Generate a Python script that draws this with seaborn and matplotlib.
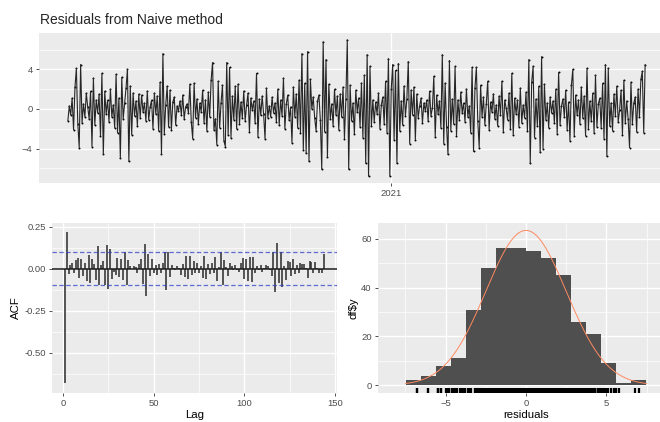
import matplotlib

matplotlib.use("Agg")
import matplotlib.pyplot as plt
import numpy as np
import pandas as pd
import seaborn as sns
from matplotlib.ticker import FixedLocator

# residual series (one row per ~34 px of the top panel)
RESIDUALS = [
    -1.2, 0.3, -0.6, 1.1, -2.1, 2.2, 4.1, -1.5, -3.9, 4.5, -1.4, 0.5, -0.8, 1.6, 0.2, -1.0, 1.8, -3.8, 3.1, -1.6, 0.9, -0.4, 1.5, -2.7,
    3.6, -4.6, 1.8, -0.5, 0.9, -1.3, 2.0, -0.8, 0.4, -1.9, 3.5, -2.4, 1.1, -5.0, 3.2, -1.0, 0.6, 2.1, 4.0, -5.3, 2.3, -2.6, 1.6, -0.7,
    0.8, -1.7, 1.5, -0.9, 1.4, -0.3, 0.6, -1.2, 1.8, -1.1, 0.2, 0.9, -2.0, 1.6, -0.5, 1.3, -2.2, 2.7, -4.6, 5.6, -2.5, 0.4, 2.3, -1.8,
    1.9, -2.1, 0.7, 1.2, -1.6, 0.3, -0.2, 0.8, -0.6, 1.4, -1.0, 0.2, 0.5, -0.4, 2.5, -1.3, -3.0, 2.6, -0.9, 1.0, -1.5, 0.6, -0.3, 1.9,
    -1.4, 0.9, -2.2, 1.7, -0.8, 2.9, 4.7, -2.1, -1.0, -3.6, 2.8, -1.9, 0.6, 2.4, -3.2, -3.8, 4.7, -2.6, 4.2, -2.9, 1.3, -1.1, 2.3, -2.0,
    2.5, -1.5, 0.7, -0.9, 1.8, -1.2, 0.4, 1.6, -2.3, 1.1, -0.1, 0.8, -1.4, 3.6, -2.8, 1.0, -0.6, 1.3, -0.5, -3.0, 2.1, -0.9, 0.3, -0.8,
    1.2, -0.4, 0.6, -1.3, 2.0, -1.6, 0.9, -0.7, 3.1, -2.0, 0.5, 1.4, -1.1, 0.2, -3.4, 2.2, -0.8, 1.5, -1.9, 2.9, -2.4, 5.6, -4.1, 2.6,
    -4.5, 5.8, -5.3, 3.0, 0.0, 1.2, -0.9, -2.2, 0.8, 1.4, -1.1, -6.1, 6.8, -2.3, 5.0, -4.9, 2.5, -1.0, 0.5, -1.7, 2.0, -0.6, 1.3, -2.1,
    1.5, -0.8, 2.2, -3.0, 1.0, 7.0, -6.1, 2.4, -1.2, 0.6, -2.5, 1.9, -0.3, 1.1, -1.8, 2.6, -2.9, 3.4, -5.5, 5.5, -6.8, 4.3, -1.7, 0.9,
    -1.3, 0.7, -0.5, 1.6, -2.0, 0.4, 1.2, -1.5, 2.8, -2.4, 5.1, -6.8, 2.0, 4.5, -3.1, 3.9, -5.5, 4.6, -2.2, 0.8, -1.6, 2.3, -0.7, 1.0,
    4.8, -3.5, 1.9, -0.6, 2.2, -3.1, 1.5, -0.9, 0.3, 1.1, -1.4, 0.6, -0.2, 0.9, -1.2, 1.8, -0.7, 0.1, 3.3, -2.8, 1.4, -0.5, 0.8, -1.9,
    5.5, -3.5, 2.6, -1.8, -4.6, 4.9, -2.2, 1.0, -1.5, 4.3, -2.7, 0.9, -1.1, 1.7, -0.4, 0.6, -1.3, 2.0, -0.8, 0.3, -2.4, 4.2, -4.3, 2.1,
    4.2, -1.2, -3.9, 2.4, -0.8, 1.2, -1.6, 0.5, 2.8, -2.1, 0.7, -0.3, 1.5, -1.0, 0.4, -1.7, 1.3, -0.6, 2.8, -2.3, 0.9, 0.1, -1.1, 1.6,
    -2.0, 3.6, -2.6, 1.1, -0.5, 0.9, -1.8, 2.1, -1.4, 0.4, -0.9, 1.7, -2.2, 5.0, -5.5, 2.7, 4.3, -2.9, 1.0, -1.7, 2.3, -4.4, 5.3, -4.0,
    2.5, -1.1, 0.6, -1.9, 1.2, -0.4, 0.8, -1.4, 2.0, -2.5, 3.7, -1.6, 0.3, 1.0, -0.8, 1.9, -2.1, 0.7, -3.2, 2.4, 4.0, -2.7, 1.4, -0.6,
    0.9, -1.5, 2.2, -0.9, 1.3, -2.7, 4.1, -2.0, 0.8, -1.2, 1.6, -2.4, 3.4, -1.8, 0.5, 1.1, -1.9, 2.6, -3.0, 4.5, -4.8, 4.1, -1.7, 0.6,
    -2.2, 1.5, -0.7, 2.3, -1.3, -0.1, 1.9, -2.6, 2.9, -1.4, 0.8, -1.0, -3.9, 2.7, -1.5, 0.6, 1.2, -2.3, 2.0, -0.8, 3.0, 3.8, -2.4, 4.5,
]
YEAR_TICK_INDEX = 228
YEAR_TICK_LABEL = "2021"

# autocorrelations for lags 1..144
ACF_VALUES = [
    -0.68, 0.22, -0.034, 0.02, 0.032, -0.024, 0.05, 0.065, -0.054, 0.055,
    -0.044, 0.036, -0.073, 0.081, -0.083, 0.06, 0.03, -0.065, 0.135, -0.095,
    0.02, 0.045, -0.1, 0.14, -0.12, 0.12, -0.06, -0.02, -0.04, 0.065,
    -0.05, 0.055, -0.07, 0.1, -0.095, 0.05, 0.015, 0.0, 0.015, 0.01,
    -0.025, 0.03, 0.055, -0.09, 0.145, -0.165, 0.085, -0.045, 0.055, -0.025,
    0.02, -0.035, 0.025, -0.025, 0.035, 0.1, -0.125, 0.1, -0.05, 0.02,
    0.005, -0.01, 0.015, 0.005, -0.035, 0.03, -0.05, 0.075, -0.06, 0.075,
    -0.035, 0.045, -0.025, 0.036, -0.024, 0.016, -0.054, 0.075, -0.063, 0.026,
    -0.034, 0.036, -0.024, 0.071, -0.073, 0.01, 0.099, -0.099, 0.052, 0.01,
    -0.044, 0.032, 0.016, -0.008, 0.02, -0.01, -0.02, 0.036, 0.065, -0.063,
    0.06, -0.075, 0.07, -0.08, 0.07, -0.024, 0.016, -0.01, 0.02, -0.02,
    0.005, 0.02, 0.016, -0.01, -0.045, 0.1, -0.14, 0.15, -0.085, 0.1,
    -0.11, 0.016, -0.065, 0.045, 0.04, -0.044, 0.06, -0.034, 0.02, -0.024,
    0.032, 0.028, 0.028, 0.005, -0.055, 0.044, 0.04, -0.024, 0.04, 0.005,
    -0.024, -0.005, -0.028, 0.09,
]
ACF_BOUND = 0.097

HIST_BIN_WIDTH = 0.93
HIST_COUNTS = [2, 4, 8, 11, 31, 48, 56, 56, 55, 52, 45, 26, 21, 9, 1, 2]
NORMAL_MEAN = 0.0
NORMAL_SD = 2.5

BG = "#EBEBEB"
TEXT = "#4D4D4D"

sns.set_theme(style="darkgrid")
plt.rcParams.update({
    "axes.facecolor": BG,
    "grid.color": "white",
    "axes.edgecolor": BG,
    "xtick.color": "#333333",
    "ytick.color": "#333333",
    "xtick.labelcolor": TEXT,
    "ytick.labelcolor": TEXT,
    "xtick.major.size": 2.5,
    "ytick.major.size": 2.5,
    "xtick.major.width": 0.6,
    "ytick.major.width": 0.6,
    "xtick.major.pad": 2,
    "ytick.major.pad": 2,
    "xtick.labelsize": 6.8,
    "ytick.labelsize": 6.8,
    "axes.labelsize": 8.2,
    "axes.labelcolor": "black",
})
plt.rcParams["font.family"] = ["Liberation Sans", "DejaVu Sans"]


def _ggplot_grid(ax, xminor, yminor):
    ax.xaxis.set_minor_locator(FixedLocator(xminor))
    ax.yaxis.set_minor_locator(FixedLocator(yminor))
    ax.grid(which="major", color="white", lw=1.0)
    ax.grid(which="minor", color="white", lw=0.5)
    ax.tick_params(which="minor", length=0)
    ax.tick_params(which="major", bottom=True, left=True)
    for s in ax.spines.values():
        s.set_visible(False)
    ax.set_axisbelow(True)


W, H = 660, 422
fig = plt.figure(figsize=(W / 100, H / 100), dpi=100)


def _axes(x0, y0, x1, y1):
    return fig.add_axes([x0 / W, 1 - y1 / H, (x1 - x0) / W, (y1 - y0) / H])


# --- top: residual time plot ---
ax1 = _axes(39, 33, 674, 183)
idx = np.arange(len(RESIDUALS))
sns.lineplot(x=idx, y=RESIDUALS, color="#262626", lw=0.8, ax=ax1)
sns.scatterplot(x=idx, y=RESIDUALS, color="black", s=2, linewidth=0, ax=ax1)
ax1.margins(x=0.05, y=0.05)
ax1.set_xticks([YEAR_TICK_INDEX])
ax1.set_xticklabels([YEAR_TICK_LABEL])
ax1.set_yticks([-4, 0, 4])
_ggplot_grid(ax1, [], [-6, -2, 2, 6])
ax1.set_xlabel("")
ax1.set_ylabel("")
fig.text(40 / W, 1 - 24 / H, "Residuals from Naive method", fontsize=10, ha="left", va="baseline")

# --- bottom left: ACF ---
ax2 = _axes(52, 223, 337, 393)
lags = np.arange(1, len(ACF_VALUES) + 1)
ax2.vlines(lags, 0, ACF_VALUES, color="#2b2b2b", lw=1.1)
ax2.axhline(0, color="#1a1a1a", lw=1.1)
for b in (ACF_BOUND, -ACF_BOUND):
    ax2.axhline(b, color="#3040c8", lw=0.9, ls=(0, (3.5, 2)), alpha=0.75)
span = lags[-1] - lags[0]
ax2.set_xlim(lags[0] - 0.05 * span, lags[-1] + 0.05 * span)
ax2.set_ylim(-0.74, 0.272)
ax2.set_xticks([0, 50, 100, 150])
ax2.set_yticks([-0.5, -0.25, 0, 0.25])
ax2.yaxis.set_major_formatter(lambda v, _: f"{v:.2f}")
_ggplot_grid(ax2, [25, 75, 125], [-0.625, -0.375, -0.125, 0.125])
ax2.set_xlabel("Lag", labelpad=1)
ax2.set_ylabel("ACF", labelpad=2)

# --- bottom right: histogram with normal curve and rug ---
ax3 = _axes(378, 223, 674, 393)
nb = len(HIST_COUNTS)
edges = HIST_BIN_WIDTH * (np.arange(nb + 1) - nb / 2)
hist_df = pd.DataFrame({"centers": (edges[:-1] + edges[1:]) / 2, "counts": HIST_COUNTS})
sns.histplot(data=hist_df, x="centers", weights="counts", binwidth=HIST_BIN_WIDTH,
             binrange=(edges[0], edges[-1]), color="#4f4f4f",
             alpha=1, linewidth=0, ax=ax3)
grid = np.linspace(NORMAL_MEAN - 3 * NORMAL_SD, NORMAL_MEAN + 3 * NORMAL_SD, 300)
dens = sum(HIST_COUNTS) * HIST_BIN_WIDTH * np.exp(-0.5 * ((grid - NORMAL_MEAN) / NORMAL_SD) ** 2) / (NORMAL_SD * np.sqrt(2 * np.pi))
sns.lineplot(x=grid, y=dens, color="#ff8a62", lw=0.7, ax=ax3)
sns.rugplot(x=RESIDUALS, height=0.03, color="black", linewidth=1.6, ax=ax3)
ax3.set_xlim(-9.2, 9.2)
ax3.set_ylim(-3.16, 66.4)
ax3.set_xticks([-5, 0, 5])
ax3.set_yticks([0, 20, 40, 60])
_ggplot_grid(ax3, [-7.5, -2.5, 2.5, 7.5], [10, 30, 50])
ax3.set_xlabel("residuals", labelpad=1)
ax3.set_ylabel("df$y", labelpad=2)

fig.savefig("out.png", dpi=100)
